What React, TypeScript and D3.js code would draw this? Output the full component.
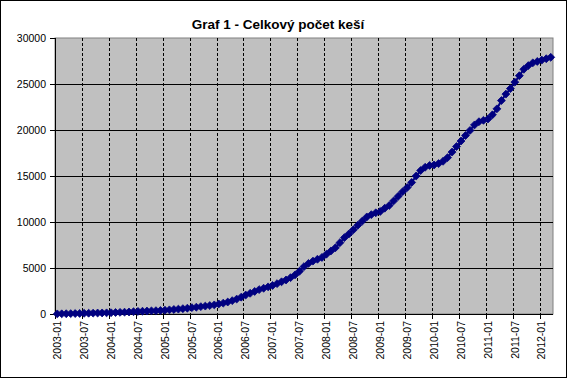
import React from "react";
import * as d3 from "d3";

const years = [2003, 2004, 2005, 2006, 2007, 2008, 2009, 2010, 2011, 2012];
const categories: string[] = [];
years.forEach((y) => {
  for (let m = 1; m <= 12; m++) {
    if (y === 2012 && m > 3) break;
    categories.push(`${y}-${m < 10 ? "0" + m : m}`);
  }
});

const values2003 = [10, 20, 30, 40, 50, 60, 75, 85, 95, 105, 115, 125];
const values2004 = [140, 160, 180, 200, 220, 250, 280, 300, 320, 340, 360, 380];
const values2005 = [410, 450, 490, 530, 580, 630, 690, 740, 800, 860, 920, 990];
const values2006 = [1090, 1180, 1300, 1450, 1620, 1830, 2060, 2250, 2450, 2650, 2800, 2950];
const values2007 = [3100, 3300, 3500, 3700, 3950, 4250, 4650, 5150, 5500, 5750, 5950, 6150];
const values2008 = [6500, 6850, 7200, 7750, 8300, 8700, 9150, 9650, 10100, 10550, 10800, 11000];
const values2009 = [11150, 11500, 11800, 12300, 12800, 13300, 13750, 14300, 15000, 15600, 15950, 16150];
const values2010 = [16200, 16350, 16600, 17000, 17600, 18200, 18800, 19400, 19950, 20550, 20900, 21050];
const values2011 = [21200, 21650, 22300, 23200, 23900, 24500, 25200, 25900, 26600, 27000, 27300, 27450];
const values2012 = [27600, 27750, 27900];

const values = [
  ...values2003, ...values2004, ...values2005, ...values2006, ...values2007,
  ...values2008, ...values2009, ...values2010, ...values2011, ...values2012,
];

const yTicks = [0, 5000, 10000, 15000, 20000, 25000, 30000];
const title = "Graf 1 - Celkový počet keší";

const W = 568;
const H = 379;
const left = 55;
const right = 553;
const top = 38;
const bottom = 314;
const font = "Arial, 'Liberation Sans', sans-serif";

export default function App() {
  const x = d3.scaleBand<string>().domain(categories).range([left, right]).padding(0);
  const y = d3.scaleLinear().domain([0, 30000]).range([bottom, top]);
  const bw = x.bandwidth();
  const cx = (c: string) => (x(c) as number) + bw / 2;

  const line = d3
    .line<number>()
    .x((_, i) => cx(categories[i]))
    .y((d) => y(d));

  const tickIdx = categories.map((_, i) => i).filter((i) => i % 6 === 0);
  const diamond = d3.symbol().type(d3.symbolDiamond2).size(40)() as string;

  return (
    <svg
      width={W}
      height={H}
      style={{ position: "absolute", left: 0, top: 0, background: "#fff" }}
      fontFamily={font}
    >
      <rect x={0.5} y={0.5} width={566} height={377} fill="#fff" stroke="#000" />
      <text
        x={278}
        y={29}
        textAnchor="middle"
        fontWeight="bold"
        fontSize={13.5}
        fill="#000"
      >
        {title}
      </text>

      <rect x={left} y={top} width={right - left} height={bottom - top} fill="#C0C0C0" stroke="#808080" />

      {yTicks.filter((t) => t > 0 && t < 30000).map((t) => (
        <line key={"g" + t} x1={left} x2={right} y1={Math.round(y(t)) + 0.5} y2={Math.round(y(t)) + 0.5} stroke="#000" />
      ))}
      {tickIdx.filter((i) => i > 0).map((i) => {
        const xx = Math.round(x(categories[i]) as number) + 0.5;
        return (
          <line key={"v" + i} x1={xx} x2={xx} y1={top} y2={bottom} stroke="#000" strokeDasharray="3,2" />
        );
      })}

      {/* axes */}
      <line x1={left + 0.5} x2={left + 0.5} y1={top} y2={bottom + 0.5} stroke="#000" />
      <line x1={left} x2={right} y1={bottom + 0.5} y2={bottom + 0.5} stroke="#000" />
      {yTicks.map((t) => (
        <g key={"y" + t}>
          <line x1={left - 5} x2={left} y1={Math.round(y(t)) + 0.5} y2={Math.round(y(t)) + 0.5} stroke="#000" />
          <text x={46} y={y(t)} dy="0.35em" textAnchor="end" fontSize={10.5} fill="#000">
            {t}
          </text>
        </g>
      ))}
      {tickIdx.map((i) => {
        const xx = Math.round(x(categories[i]) as number) + 0.5;
        return (
          <g key={"x" + i}>
            <line x1={xx} x2={xx} y1={bottom} y2={bottom + 5} stroke="#000" />
            <text
              transform={`translate(${cx(categories[i])},321) rotate(-90)`}
              dy="0.35em"
              textAnchor="end"
              fontSize={10.5}
              fill="#000"
            >
              {categories[i]}
            </text>
          </g>
        );
      })}

      <path d={line(values) as string} fill="none" stroke="#000080" strokeWidth={2} />
      {values.map((v, i) => (
        <path key={"m" + i} d={diamond} transform={`translate(${cx(categories[i])},${y(v)})`} fill="#000080" stroke="#000080" strokeWidth={0.8} />
      ))}
    </svg>
  );
}
